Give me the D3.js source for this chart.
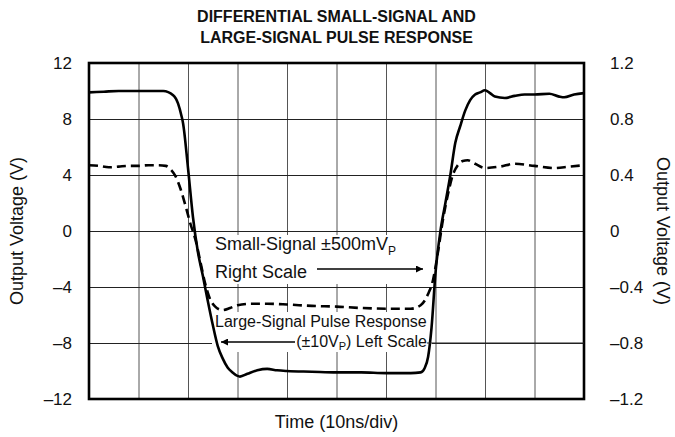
<!DOCTYPE html>
<html><head><meta charset="utf-8">
<script src="https://cdn.jsdelivr.net/npm/d3@7/dist/d3.min.js"></script>
<style>
body{margin:0;background:#fff}
text{font-family:Arial,"Liberation Sans",Helvetica,sans-serif;fill:#111}
</style>
</head><body>
<svg id="chart" width="675" height="437"></svg>
<script>
// ---- data (time in divisions, 10 ns/div) ----
const largeTime = [0,0.3,0.6,0.9,1.2,1.5,1.7,1.8,1.87,1.9,2.0,2.1,2.2,2.3,2.4,2.5,2.6,2.7,2.8,2.9,3.0,3.05,3.2,3.4,3.6,3.8,4.0,4.5,5.0,5.5,6.0,6.5,6.7,6.78,6.85,6.92,7.0,7.1,7.2,7.3,7.4,7.5,7.6,7.7,7.8,7.9,8.0,8.1,8.2,8.4,8.6,8.8,9.0,9.3,9.5,9.6,9.8,10];
const largeSignal = [9.9,9.95,10.0,10.0,10.0,10.0,9.7,9.1,8.2,7.7,4.5,1.0,-1.5,-3.2,-5.0,-6.7,-8.2,-9.1,-9.75,-10.1,-10.35,-10.4,-10.2,-9.95,-9.85,-9.95,-10.0,-10.05,-10.1,-10.1,-10.15,-10.15,-10.1,-9.8,-9.0,-6.9,-3.0,0.0,2.0,4.0,6.3,7.5,8.6,9.35,9.75,9.9,10.05,9.85,9.6,9.5,9.65,9.75,9.75,9.8,9.6,9.55,9.75,9.85];
const smallTime = [0,0.2,0.4,0.6,0.8,1.0,1.2,1.4,1.55,1.65,1.75,1.85,1.95,2.05,2.15,2.25,2.35,2.45,2.55,2.7,2.85,3.0,3.3,3.6,4.0,4.5,5.0,5.5,6.0,6.5,6.7,6.85,6.95,7.05,7.15,7.25,7.35,7.45,7.55,7.65,7.8,8.0,8.3,8.6,9.0,9.4,9.7,10];
const smallSignal = [0.47,0.465,0.455,0.46,0.465,0.465,0.47,0.47,0.465,0.44,0.39,0.30,0.18,0.05,-0.06,-0.22,-0.38,-0.49,-0.54,-0.565,-0.55,-0.53,-0.52,-0.52,-0.525,-0.535,-0.54,-0.55,-0.555,-0.555,-0.53,-0.45,-0.35,-0.15,0.08,0.26,0.40,0.47,0.50,0.505,0.48,0.45,0.46,0.48,0.465,0.45,0.46,0.47];
const xGridTicks = [0,1,2,3,4,5,6,7,8,9,10];
const leftTicks = [-12,-8,-4,0,4,8,12];
const leftTickLabels = ["\u201312","\u20138","\u20134","0","4","8","12"];
const rightTicks = [-1.2,-0.8,-0.4,0,0.4,0.8,1.2];
const rightTickLabels = ["\u20131.2","\u20130.8","\u20130.4","0","0.4","0.8","1.2"];
const titleLines = ["DIFFERENTIAL SMALL-SIGNAL AND","LARGE-SIGNAL PULSE RESPONSE"];

// ---- layout ----
const svg = d3.select("#chart");
const L = 89, R = 584, T = 63, B = 399;
const x = d3.scaleLinear().domain([0,10]).range([L,R]);
const yL = d3.scaleLinear().domain([-12,12]).range([B,T]);
const yR = d3.scaleLinear().domain([-1.2,1.2]).range([B,T]);

// title
svg.append("g").selectAll("text").data(titleLines).join("text")
  .attr("x", (L+R)/2).attr("y",(d,i)=>22+i*21)
  .attr("text-anchor","middle").attr("font-weight","bold").attr("font-size",16)
  .text(d=>d);

// vertical grid
svg.append("g").attr("transform",`translate(0,${B})`)
  .call(d3.axisBottom(x).tickValues(xGridTicks).tickSize(-(B-T)).tickFormat(""))
  .call(g=>g.select(".domain").remove())
  .call(g=>g.selectAll(".tick line").attr("stroke","#555").attr("stroke-width",1));

// horizontal grid + left labels
svg.append("g").attr("transform",`translate(${L},0)`)
  .call(d3.axisLeft(yL).tickValues(leftTicks).tickSize(-(R-L)).tickPadding(17)
        .tickFormat((d,i)=>leftTickLabels[i]))
  .call(g=>g.select(".domain").remove())
  .call(g=>g.selectAll(".tick line").attr("stroke","#222").attr("stroke-width",1))
  .call(g=>g.selectAll(".tick text").attr("font-size",17).attr("fill","#111")
        .style("font-family","Arial, 'Liberation Sans', sans-serif"));

// right labels
svg.append("g").attr("transform",`translate(${R},0)`)
  .call(d3.axisRight(yR).tickValues(rightTicks).tickSize(0).tickPadding(26)
        .tickFormat((d,i)=>rightTickLabels[i]))
  .call(g=>g.select(".domain").remove())
  .call(g=>g.selectAll(".tick text").attr("font-size",17).attr("fill","#111")
        .style("font-family","Arial, 'Liberation Sans', sans-serif"));

// annotation backgrounds
svg.append("rect").attr("x",210).attr("y",235).attr("width",222).attr("height",49).attr("fill","#fff");
svg.append("rect").attr("x",212).attr("y",312).attr("width",220).attr("height",40).attr("fill","#fff");

// clip
svg.append("clipPath").attr("id","clip").append("rect")
  .attr("x",L).attr("y",T).attr("width",R-L).attr("height",B-T);

const lineL = d3.line().x((d,i)=>x(largeTime[i])).y(d=>yL(d)).curve(d3.curveMonotoneX);
const lineR = d3.line().x((d,i)=>x(smallTime[i])).y(d=>yR(d)).curve(d3.curveMonotoneX);

svg.append("path").datum(smallSignal).attr("d",lineR).attr("clip-path","url(#clip)")
  .attr("fill","none").attr("stroke","#000").attr("stroke-width",2.6).attr("stroke-dasharray","9,5");
svg.append("path").datum(largeSignal).attr("d",lineL).attr("clip-path","url(#clip)")
  .attr("fill","none").attr("stroke","#000").attr("stroke-width",2.6);

// frame
svg.append("rect").attr("x",L).attr("y",T).attr("width",R-L).attr("height",B-T)
  .attr("fill","none").attr("stroke","#000").attr("stroke-width",2.6);

// arrows
const defs = svg.append("defs");
defs.append("marker").attr("id","ah").attr("viewBox","0 0 10 10").attr("refX",10).attr("refY",5)
  .attr("markerWidth",13).attr("markerHeight",7).attr("markerUnits","userSpaceOnUse").attr("orient","auto")
  .append("path").attr("d","M0,0L10,5L0,10Z").attr("fill","#000");

// annotation texts
const ann = svg.append("g");
const t1 = ann.append("text").attr("x",215).attr("y",250).attr("font-size",18);
t1.append("tspan").text("Small-Signal \u00B1500mV");
t1.append("tspan").attr("font-size",12).attr("dy",5).text("P");
ann.append("text").attr("x",215).attr("y",278).attr("font-size",18).text("Right Scale");
svg.append("line").attr("x1",317).attr("y1",269).attr("x2",423).attr("y2",269)
  .attr("stroke","#000").attr("stroke-width",1.3).attr("marker-end","url(#ah)");

ann.append("text").attr("x",215).attr("y",327).attr("font-size",16).attr("fill","#222").text("Large-Signal Pulse Response");
const t2 = ann.append("text").attr("x",427).attr("y",347).attr("font-size",16).attr("text-anchor","end").attr("fill","#222");
t2.append("tspan").text("(\u00B110V");
t2.append("tspan").attr("font-size",11).attr("dy",3).text("P");
t2.append("tspan").attr("dy",-3).text(") Left Scale");
svg.append("line").attr("x1",295).attr("y1",342).attr("x2",221).attr("y2",342)
  .attr("stroke","#000").attr("stroke-width",1.3).attr("marker-end","url(#ah)");
svg.append("line").attr("x1",427).attr("y1",343).attr("x2",R).attr("y2",343)
  .attr("stroke","#222").attr("stroke-width",1);

// axis titles
svg.append("text").attr("transform",`translate(23,${(T+B)/2}) rotate(-90)`)
  .attr("text-anchor","middle").attr("font-size",18).text("Output Voltage (V)");
svg.append("text").attr("transform",`translate(657,${(T+B)/2}) rotate(90)`)
  .attr("text-anchor","middle").attr("font-size",18).text("Output Voltage (V)");
svg.append("text").attr("x",(L+R)/2).attr("y",428).attr("text-anchor","middle")
  .attr("font-size",18).text("Time (10ns/div)");
</script>
</body></html>
